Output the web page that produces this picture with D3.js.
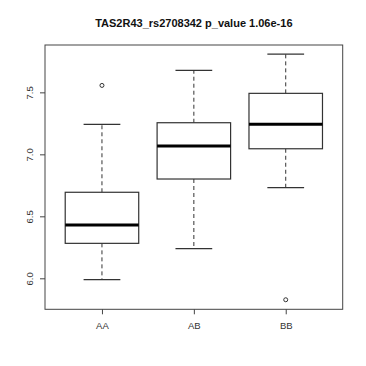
<!DOCTYPE html>
<html><head><meta charset="utf-8">
<script src="https://cdn.jsdelivr.net/npm/d3@7"></script>
<style>html,body{margin:0;padding:0;background:#fff}svg{display:block}</style>
</head><body>
<script>
const title = "TAS2R43_rs2708342 p_value 1.06e-16";
const categories = ["AA", "AB", "BB"];
const whiskerLow = [5.989, 6.239, 6.731];
const q1 = [6.282, 6.801, 7.045];
const median = [6.430, 7.067, 7.242];
const q3 = [6.694, 7.255, 7.492];
const whiskerHigh = [7.242, 7.677, 7.809];
const outliers = [[7.556], [], [5.827]];
const yTicks = [6.0, 6.5, 7.0, 7.5];

const W = 366, H = 366;
const m = {left: 45, right: 23.3, top: 45, bottom: 56.7};
const svg = d3.select("body").append("svg").attr("width", W).attr("height", H);

const x = d3.scaleLinear().domain([0.38, 3.62]).range([m.left, W - m.right]);
const y = d3.scaleLinear().domain([5.75, 7.882]).range([H - m.bottom, m.top]);
const boxHalf = 0.4, stapleHalf = 0.2;
const lineCol = "#333";
const textCol = "#333";

// frame
svg.append("rect").attr("x", m.left).attr("y", m.top)
  .attr("width", W - m.left - m.right).attr("height", H - m.top - m.bottom)
  .attr("fill", "none").attr("stroke", "#444").attr("stroke-width", 1);

// axes
const yAxis = d3.axisLeft(y).tickValues(yTicks).tickFormat(d3.format(".1f")).tickSize(5).tickPadding(4);
const gy = svg.append("g").attr("transform", `translate(${m.left},0)`).call(yAxis);
gy.select(".domain").remove();
gy.selectAll(".tick line").attr("stroke", "#444");
gy.selectAll(".tick text").attr("fill", textCol).attr("font-family", "Liberation Sans, Arial, sans-serif")
  .attr("font-size", 9.5).attr("text-anchor", "middle").attr("dy", 0)
  .attr("transform", d => `translate(${-12},0) rotate(-90)`).attr("x", 0).attr("y", 0);

const xAxis = d3.axisBottom(x).tickValues([1, 2, 3]).tickFormat((d, i) => categories[i]).tickSize(5).tickPadding(8);
const gx = svg.append("g").attr("transform", `translate(0,${H - m.bottom})`).call(xAxis);
gx.select(".domain").remove();
gx.selectAll(".tick line").attr("stroke", "#444");
gx.selectAll(".tick text").attr("fill", textCol).attr("font-family", "Liberation Sans, Arial, sans-serif").attr("font-size", 9.5);

// boxes
categories.forEach((c, i) => {
  const g = svg.append("g");
  const cx = x(i + 1);
  // whiskers (dashed)
  g.append("line").attr("x1", cx).attr("x2", cx).attr("y1", y(q3[i])).attr("y2", y(whiskerHigh[i]))
    .attr("stroke", lineCol).attr("stroke-dasharray", "4,3");
  g.append("line").attr("x1", cx).attr("x2", cx).attr("y1", y(q1[i])).attr("y2", y(whiskerLow[i]))
    .attr("stroke", lineCol).attr("stroke-dasharray", "4,3");
  // staples
  [whiskerLow[i], whiskerHigh[i]].forEach(v => {
    g.append("line").attr("x1", x(i + 1 - stapleHalf)).attr("x2", x(i + 1 + stapleHalf))
      .attr("y1", y(v)).attr("y2", y(v)).attr("stroke", lineCol).attr("stroke-width", 1.2);
  });
  // box
  g.append("rect").attr("x", x(i + 1 - boxHalf)).attr("y", y(q3[i]))
    .attr("width", x(i + 1 + boxHalf) - x(i + 1 - boxHalf)).attr("height", y(q1[i]) - y(q3[i]))
    .attr("fill", "#fff").attr("stroke", lineCol).attr("stroke-width", 1.2);
  // median
  g.append("line").attr("x1", x(i + 1 - boxHalf)).attr("x2", x(i + 1 + boxHalf))
    .attr("y1", y(median[i])).attr("y2", y(median[i])).attr("stroke", "#000").attr("stroke-width", 3);
  // outliers
  outliers[i].forEach(v => {
    g.append("circle").attr("cx", cx).attr("cy", y(v)).attr("r", 2)
      .attr("fill", "none").attr("stroke", lineCol).attr("stroke-width", 1);
  });
});

// title
svg.append("text").attr("x", (m.left + W - m.right) / 2).attr("y", 27)
  .attr("text-anchor", "middle").attr("font-family", "Liberation Sans, Arial, sans-serif")
  .attr("font-weight", "bold").attr("font-size", 11).attr("fill", "#111").text(title);
</script>
</body></html>
